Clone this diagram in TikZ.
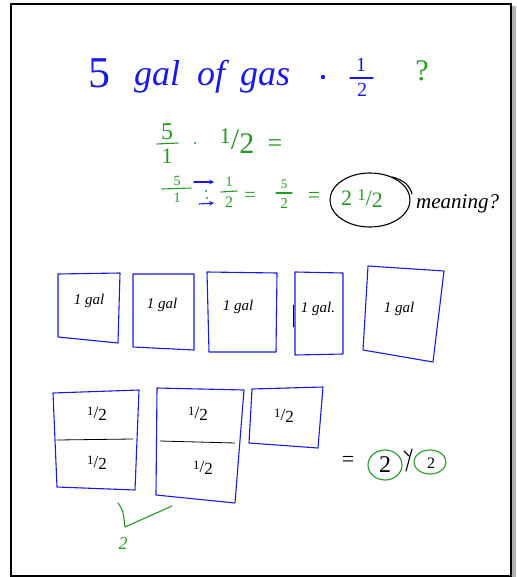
\documentclass[tikz,border=0pt]{standalone}
\usepackage{fontspec}
\setmainfont{Liberation Serif}
\definecolor{handblue}{RGB}{25,25,235}
\definecolor{handgreen}{RGB}{35,155,35}
\newcommand\hlf{{\raisebox{0.45ex}{\scalebox{0.75}{1}}/\raisebox{-0.25ex}{2}}}
\newcommand\fsz[1]{\fontsize{#1}{#1}\selectfont}
\begin{document}
\begin{tikzpicture}[x=1pt,y=-1pt,
  ink/.style={line width=1.1pt, line join=round, line cap=round},
  bluebox/.style={ink, draw=handblue},
  blk/.style={inner sep=0, text=black, font=\itshape\fsz{15}},
  grn/.style={inner sep=0, text=handgreen},
  blu/.style={inner sep=0, text=handblue},
  half/.style={inner sep=0, text=black, font=\fsz{17}}]
\useasboundingbox (0,0) rectangle (516,577);
\fill[gray!60] (512,6) rectangle (516,577);
\draw[line width=2pt] (11,4) rectangle (511,576);

% line 1
\node[blu, font=\fsz{44}, anchor=base] (five) at (99,88) {5};
\node[blu, font=\itshape\fsz{36}, anchor=base] (gal) at (157,86) {gal};
\node[blu, font=\itshape\fsz{36}, anchor=base] (of) at (211,86) {of};
\node[blu, font=\itshape\fsz{36}, anchor=base] (gas) at (265,86) {gas};
\fill[handblue] (323,77) circle (2.2);
\node[blu, font=\fsz{20}] (n1) at (361,65) {1};
\draw[ink, handblue] (350,78) -- (373,78);
\node[blu, font=\fsz{20}] (d2) at (362,90) {2};
\node[grn, font=\fsz{30}] (q) at (422,71) {?};

% line 2
\node[grn, font=\fsz{24}] (l2n) at (167,132) {5};
\draw[ink, handgreen] (157,144) -- (178,143);
\node[grn, font=\fsz{22}] (l2d) at (167,156) {1};
\fill[handgreen] (195,143) circle (1.2);
\node[grn, font=\fsz{30}] (l2h) at (237,141) {\hlf};
\node[grn, font=\fsz{26}] (l2eq) at (275,146) {=};

% line 3
\node[grn, font=\fsz{14}] (l3n) at (177,181) {5};
\draw[ink, handgreen] (162,189) -- (191,188);
\node[grn, font=\fsz{14}] (l3d) at (177,198) {1};
\coordinate (a1s) at (194,182); \coordinate (a1e) at (214,182);
\coordinate (a2s) at (199,204); \coordinate (a2e) at (214,203);
\draw[ink, handblue, -stealth] (a1s) -- (a1e);
\draw[ink, handblue, -stealth] (a2s) -- (a2e);
\fill[handgreen] (206,191) circle (1.1);
\fill[handgreen] (207,198) circle (1.1);
\node[grn, font=\fsz{14}] (l3hn) at (229,182) {1};
\draw[ink, handgreen] (221,192) -- (237,191);
\node[grn, font=\fsz{16}] (l3hd) at (229,202) {2};
\node[grn, font=\fsz{20}] (l3eq1) at (250,197) {=};
\node[grn, font=\fsz{13}] (l3fn) at (284,184) {5};
\draw[ink, handgreen] (276,193) -- (292,193);
\node[grn, font=\fsz{15}] (l3fd) at (284,204) {2};
\node[grn, font=\fsz{22}] (l3eq2) at (314,197) {=};
\draw[ink, black] (370,200) ellipse (40 and 27);
\draw[ink, black] (392,177) .. controls (404,180) and (410,186) .. (412,194);
\node[grn, font=\fsz{22}] (mixed) at (362,199) {2 \hlf};
\node[blk, font=\itshape\fsz{21}, anchor=west] (meaning) at (416,204) {meaning?};

% row of 1 gal boxes
\coordinate (b1a) at (58,274); \coordinate (b1b) at (120,273);
\coordinate (b1c) at (118,343); \coordinate (b1d) at (58,337);
\draw[bluebox] (b1a) -- (b1b) -- (b1c) -- (b1d) -- cycle;
\node[blk] (g1) at (89,301) {1 gal};
\coordinate (b2a) at (133,274); \coordinate (b2b) at (194,274);
\coordinate (b2c) at (194,350); \coordinate (b2d) at (133,347);
\draw[bluebox] (b2a) -- (b2b) -- (b2c) -- (b2d) -- cycle;
\node[blk] (g2) at (162,305) {1 gal};
\coordinate (b3a) at (207,272); \coordinate (b3b) at (277,273);
\coordinate (b3c) at (276,352); \coordinate (b3d) at (209,352);
\draw[bluebox] (b3a) -- (b3b) -- (b3c) -- (b3d) -- cycle;
\node[blk] (g3) at (238,307) {1 gal};
\coordinate (b4a) at (295,272); \coordinate (b4b) at (343,273);
\coordinate (b4c) at (343,354); \coordinate (b4d) at (295,355);
\draw[bluebox] (b4a) -- (b4b) -- (b4c) -- (b4d) -- cycle;
\draw[ink, black, line width=0.8pt] (293,305) -- (293,327);
\node[blk] (g4) at (318,309) {1 gal.};
\coordinate (b5a) at (368,266); \coordinate (b5b) at (444,271);
\coordinate (b5c) at (433,362); \coordinate (b5d) at (363,350);
\draw[bluebox] (b5a) -- (b5b) -- (b5c) -- (b5d) -- cycle;
\node[blk] (g5) at (399,309) {1 gal};

% halves boxes
\coordinate (ba) at (53,393); \coordinate (bb) at (139,390);
\coordinate (bc) at (135,490); \coordinate (bd) at (57,487);
\draw[bluebox] (ba) -- (bb) -- (bc) -- (bd) -- cycle;
\coordinate (bal) at (57,440); \coordinate (bar) at (133,439);
\draw[ink, black, line width=0.8pt] (bal) -- (bar);
\node[half] (h1) at (97,414) {\hlf};
\node[half] (h2) at (97,463) {\hlf};
\coordinate (bba) at (157,388); \coordinate (bbb) at (244,390);
\coordinate (bbc) at (235,503); \coordinate (bbd) at (156,495);
\draw[bluebox] (bba) -- (bbb) -- (bbc) -- (bbd) -- cycle;
\coordinate (bbl) at (160,441); \coordinate (bbr) at (235,443);
\draw[ink, black, line width=0.8pt] (bbl) -- (bbr);
\node[half] (h3) at (198,414) {\hlf};
\node[half] (h4) at (203,468) {\hlf};
\coordinate (bca) at (252,389); \coordinate (bcb) at (323,387);
\coordinate (bcc) at (318,448); \coordinate (bcd) at (249,443);
\draw[bluebox] (bca) -- (bcb) -- (bcc) -- (bcd) -- cycle;
\node[half] (h5) at (284,416) {\hlf};

% = 2 1/2
\node[inner sep=0, font=\fsz{22}] (eq) at (348,461) {=};
\node[inner sep=0, font=\fsz{24}] (two) at (385,465) {2};
\draw[ink, handgreen] (385,465) ellipse (17 and 15);
\draw[ink, black] (412,449) -- (406,471);
\draw[ink, black] (404,451) -- (409,456);
\node[inner sep=0, font=\fsz{16}] (twob) at (431,463) {2};
\draw[ink, handgreen] (430,462) ellipse (16 and 12);

% check mark and 2
\coordinate (c1) at (118,503); \coordinate (c2) at (125,527); \coordinate (c3) at (172,506);
\draw[ink, handgreen] (c1) .. controls (123,510) .. (c2) -- (c3);
\node[grn, font=\itshape\fsz{18}] (two2) at (123,544) {2};
\end{tikzpicture}
\end{document}
